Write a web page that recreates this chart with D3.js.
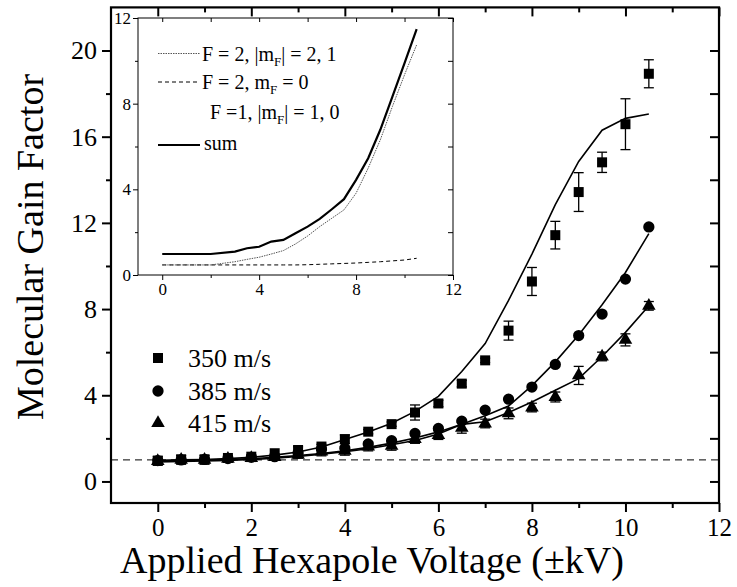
<!DOCTYPE html>
<html>
<head>
<meta charset="utf-8">
<script src="https://cdn.jsdelivr.net/npm/d3@7/dist/d3.min.js"></script>
<style>
  body { margin: 0; background: #fff; }
  svg text { font-family: "Times New Roman", Times, "Liberation Serif", "DejaVu Serif", serif; fill: #000; }
</style>
</head>
<body>
<div id="chart"></div>
<script>
// main panel data, voltages in kV
const volts = [0, 0.5, 1, 1.5, 2, 2.5, 3, 3.5, 4, 4.5, 5, 5.5, 6, 6.5, 7, 7.5, 8, 8.5, 9, 9.5, 10, 10.5];
const gain350 = [0.97, 1.03, 1.03, 1.09, 1.15, 1.31, 1.46, 1.62, 1.96, 2.31, 2.66, 3.2, 3.62, 4.54, 5.62, 7.0, 9.28, 11.43, 13.43, 14.81, 16.58, 18.92];
const err350 = [0, 0, 0, 0, 0, 0, 0.15, 0.1, 0.2, 0.1, 0.1, 0.35, 0.15, 0.15, 0.1, 0.44, 0.65, 0.64, 0.9, 0.47, 1.18, 0.65];
const fit350 = [0.98, 1.0, 1.02, 1.06, 1.12, 1.22, 1.37, 1.6, 1.95, 2.3, 2.7, 3.25, 3.95, 5.1, 6.4, 8.4, 10.55, 12.85, 14.85, 16.3, 16.85, 17.05];
const gain385 = [0.97, 1.0, 1.02, 1.06, 1.12, 1.15, 1.32, 1.49, 1.54, 1.74, 1.89, 2.23, 2.46, 2.8, 3.31, 3.82, 4.38, 5.43, 6.77, 7.77, 9.39, 11.81];
const fit385 = [0.95, 0.97, 0.99, 1.02, 1.06, 1.12, 1.2, 1.3, 1.42, 1.58, 1.78, 2.02, 2.3, 2.65, 3.05, 3.5, 4.45, 5.55, 6.8, 8.2, 9.7, 11.5];
const gain415 = [0.95, 1.0, 1.0, 1.05, 1.08, 1.13, 1.23, 1.39, 1.42, 1.62, 1.65, 1.97, 2.15, 2.49, 2.69, 3.16, 3.43, 3.92, 4.92, 5.8, 6.57, 8.15];
const err415 = [0.2, 0.2, 0.2, 0.15, 0.15, 0.15, 0.15, 0.2, 0.2, 0.2, 0.2, 0.2, 0.2, 0.25, 0.2, 0.25, 0.2, 0.23, 0.42, 0.2, 0.28, 0.2];
const fit415 = [0.9, 0.93, 0.95, 0.98, 1.02, 1.08, 1.16, 1.26, 1.38, 1.52, 1.7, 1.9, 2.2, 2.65, 2.77, 3.2, 3.69, 4.23, 4.77, 5.8, 6.92, 8.15];
const seriesNames = ["350 m/s", "385 m/s", "415 m/s"];

// inset data
const insetVolts = [0, 2, 3, 3.5, 4, 4.5, 5, 5.5, 6, 6.5, 7, 7.5, 8, 8.5, 9, 9.5, 10, 10.5];
const insetSum = [0.98, 0.98, 1.09, 1.25, 1.32, 1.56, 1.64, 1.95, 2.26, 2.62, 3.07, 3.54, 4.44, 5.45, 6.78, 8.33, 9.89, 11.48];
const insetF2m21 = [0.47, 0.47, 0.62, 0.73, 0.83, 0.98, 1.14, 1.45, 1.82, 2.26, 2.65, 3.04, 3.82, 4.99, 6.31, 7.87, 9.35, 10.75];
const insetF2m0 = [0.47, 0.47, 0.47, 0.47, 0.47, 0.47, 0.47, 0.47, 0.48, 0.5, 0.52, 0.54, 0.56, 0.59, 0.62, 0.66, 0.7, 0.78];

// ticks
const xMajor = [0, 2, 4, 6, 8, 10, 12];
const xMinor = [1, 3, 5, 7, 9, 11];
const yMajor = [0, 4, 8, 12, 16, 20];
const yMinor = [2, 6, 10, 14, 18];
const insetMajor = [0, 4, 8, 12];
const insetMinor = [2, 6, 10];
const refLevel = 1;

const FONT = '"Times New Roman", Times, "Liberation Serif", "DejaVu Serif", serif';
const W = 737, H = 587;
const svg = d3.select("#chart").append("svg")
    .attr("width", W)
    .attr("height", H)
    .attr("font-family", FONT);
svg.append("rect").attr("width", W).attr("height", H).attr("fill", "#fff");

const x = d3.scaleLinear().domain([-1, 12]).range([111, 719]);
const y = d3.scaleLinear().domain([-1, 22]).range([503, 7.4]);

// reference dashed line at gain = 1
svg.append("line")
    .attr("x1", x(-1)).attr("x2", x(12))
    .attr("y1", y(refLevel)).attr("y2", y(refLevel))
    .attr("stroke", "#000").attr("stroke-width", 1)
    .attr("stroke-dasharray", "7,5");

// axes - outward on bottom/left, inward on top/right
function styleAxis(g) {
    g.attr("font-family", FONT);
    g.select(".domain").remove();
    g.selectAll("line").attr("stroke", "#000").attr("stroke-width", 2);
}
svg.append("g").attr("transform", `translate(0,${y(-1)})`)
    .call(d3.axisBottom(x).tickValues(xMajor).tickSize(9).tickPadding(6))
    .call(styleAxis)
    .selectAll("text").style("font-size", "25px");
svg.append("g").attr("transform", `translate(0,${y(-1)})`)
    .call(d3.axisBottom(x).tickValues(xMinor).tickSize(5).tickFormat(""))
    .call(styleAxis);
svg.append("g").attr("transform", `translate(0,${y(22)})`)
    .call(d3.axisTop(x).tickValues(xMajor).tickSize(-9).tickFormat(""))
    .call(styleAxis);
svg.append("g").attr("transform", `translate(0,${y(22)})`)
    .call(d3.axisTop(x).tickValues(xMinor).tickSize(-5).tickFormat(""))
    .call(styleAxis);
svg.append("g").attr("transform", `translate(${x(-1)},0)`)
    .call(d3.axisLeft(y).tickValues(yMajor).tickSize(9).tickPadding(5))
    .call(styleAxis)
    .selectAll("text").style("font-size", "26px");
svg.append("g").attr("transform", `translate(${x(-1)},0)`)
    .call(d3.axisLeft(y).tickValues(yMinor).tickSize(5).tickFormat(""))
    .call(styleAxis);
svg.append("g").attr("transform", `translate(${x(12)},0)`)
    .call(d3.axisRight(y).tickValues(yMajor).tickSize(-9).tickFormat(""))
    .call(styleAxis);
svg.append("g").attr("transform", `translate(${x(12)},0)`)
    .call(d3.axisRight(y).tickValues(yMinor).tickSize(-9).tickFormat(""))
    .call(styleAxis);

svg.append("rect")
    .attr("x", x(-1)).attr("y", y(22))
    .attr("width", x(12) - x(-1)).attr("height", y(-1) - y(22))
    .attr("fill", "none").attr("stroke", "#000").attr("stroke-width", 2.2);

// axis titles
svg.append("text")
    .attr("x", 372).attr("y", 573)
    .attr("text-anchor", "middle")
    .style("font-size", "38px")
    .text("Applied Hexapole Voltage (\u00B1kV)");
svg.append("text")
    .attr("transform", "translate(43,247) rotate(-90)")
    .attr("text-anchor", "middle")
    .style("font-size", "38px")
    .text("Molecular Gain Factor");

// fit lines
const line = d3.line().x((d, i) => x(volts[i])).y(d => y(d));
[fit350, fit385, fit415].forEach(f => {
    svg.append("path").datum(f)
        .attr("d", line)
        .attr("fill", "none").attr("stroke", "#000").attr("stroke-width", 1.6);
});

// error bars
function errorBars(vals, errs) {
    const g = svg.append("g").attr("stroke", "#000").attr("stroke-width", 1.3);
    vals.forEach((v, i) => {
        const e = errs[i];
        if (!e) return;
        const cx = x(volts[i]);
        g.append("line").attr("x1", cx).attr("x2", cx).attr("y1", y(v - e)).attr("y2", y(v + e));
        g.append("line").attr("x1", cx - 5).attr("x2", cx + 5).attr("y1", y(v - e)).attr("y2", y(v - e));
        g.append("line").attr("x1", cx - 5).attr("x2", cx + 5).attr("y1", y(v + e)).attr("y2", y(v + e));
    });
}
errorBars(gain350, err350);
errorBars(gain415, err415);

// markers
const sq = d3.symbol().type(d3.symbolSquare).size(100);
const circ = d3.symbol().type(d3.symbolCircle).size(100);
const tri = d3.symbol().type(d3.symbolTriangle).size(80);
const markerSets = [[gain350, sq], [gain385, circ], [gain415, tri]];
markerSets.forEach(([vals, sym]) => {
    svg.append("g").selectAll("path")
        .data(vals)
        .join("path")
        .attr("d", sym)
        .attr("transform", (d, i) => `translate(${x(volts[i])},${y(d)})`)
        .attr("fill", "#000");
});

// main legend
const legY = [358, 391, 423];
markerSets.forEach(([vals, sym], i) => {
    svg.append("path").attr("d", sym)
        .attr("transform", `translate(158,${legY[i]})`).attr("fill", "#000");
    svg.append("text")
        .attr("x", 188).attr("y", legY[i]).attr("dy", "0.35em")
        .style("font-size", "26px")
        .text(seriesNames[i]);
});

// ---------------- inset ----------------
const ix = d3.scaleLinear().domain([-1, 12]).range([138, 453]);
const iy = d3.scaleLinear().domain([0, 12]).range([275, 18]);

svg.append("rect")
    .attr("x", ix(-1)).attr("y", iy(12))
    .attr("width", ix(12) - ix(-1)).attr("height", iy(0) - iy(12))
    .attr("fill", "#fff").attr("stroke", "#000").attr("stroke-width", 1);

function styleInset(g) {
    g.attr("font-family", FONT).attr("font-size", 17);
    g.select(".domain").remove();
    g.selectAll("line").attr("stroke", "#000").attr("stroke-width", 1);
}
svg.append("g").attr("transform", `translate(0,${iy(0)})`)
    .call(d3.axisBottom(ix).tickValues(insetMajor).tickSize(5).tickPadding(3)).call(styleInset);
svg.append("g").attr("transform", `translate(0,${iy(0)})`)
    .call(d3.axisBottom(ix).tickValues(insetMinor).tickSize(3).tickFormat("")).call(styleInset);
svg.append("g").attr("transform", `translate(0,${iy(12)})`)
    .call(d3.axisTop(ix).tickValues(insetMajor.concat(insetMinor)).tickSize(-4).tickFormat("")).call(styleInset);
svg.append("g").attr("transform", `translate(${ix(-1)},0)`)
    .call(d3.axisLeft(iy).tickValues(insetMajor).tickSize(5).tickPadding(2)).call(styleInset);
svg.append("g").attr("transform", `translate(${ix(-1)},0)`)
    .call(d3.axisLeft(iy).tickValues(insetMinor).tickSize(3).tickFormat("")).call(styleInset);
svg.append("g").attr("transform", `translate(${ix(12)},0)`)
    .call(d3.axisRight(iy).tickValues(insetMajor.concat(insetMinor)).tickSize(-5).tickFormat("")).call(styleInset);

const iline = d3.line().x((d, i) => ix(insetVolts[i])).y(d => iy(d));
svg.append("path").datum(insetF2m0).attr("d", iline)
    .attr("fill", "none").attr("stroke", "#000").attr("stroke-width", 1)
    .attr("stroke-dasharray", "4,3");
svg.append("path").datum(insetF2m21).attr("d", iline)
    .attr("fill", "none").attr("stroke", "#555").attr("stroke-width", 1)
    .attr("stroke-dasharray", "1.5,1");
svg.append("path").datum(insetSum).attr("d", iline)
    .attr("fill", "none").attr("stroke", "#000").attr("stroke-width", 2.2);

// inset legend
const lg = svg.append("g").style("font-size", "20px");
lg.append("line").attr("x1", 158).attr("x2", 200).attr("y1", 53.5).attr("y2", 53.5)
    .attr("stroke", "#555").attr("stroke-width", 1).attr("stroke-dasharray", "1.5,1");
lg.append("line").attr("x1", 158).attr("x2", 200).attr("y1", 82).attr("y2", 82)
    .attr("stroke", "#000").attr("stroke-width", 1).attr("stroke-dasharray", "4,3");
lg.append("line").attr("x1", 158).attr("x2", 200).attr("y1", 145).attr("y2", 145)
    .attr("stroke", "#000").attr("stroke-width", 2.2);

function subText(xp, yp, parts) {
    const t = lg.append("text").attr("x", xp).attr("y", yp).attr("dy", "0.35em");
    parts.forEach(p => {
        const s = t.append("tspan").text(p[0]);
        if (p[1] === "sub") s.attr("dy", 5).style("font-size", "13px");
        if (p[1] === "up") s.attr("dy", -5);
    });
}
subText(202, 53.5, [["F = 2, |m"], ["F", "sub"], ["| = 2, 1", "up"]]);
subText(202, 82, [["F = 2, m"], ["F", "sub"], [" = 0", "up"]]);
subText(210, 111.5, [["F =1, |m"], ["F", "sub"], ["| = 1, 0", "up"]]);
subText(204, 143, [["sum"]]);
</script>
</body>
</html>
